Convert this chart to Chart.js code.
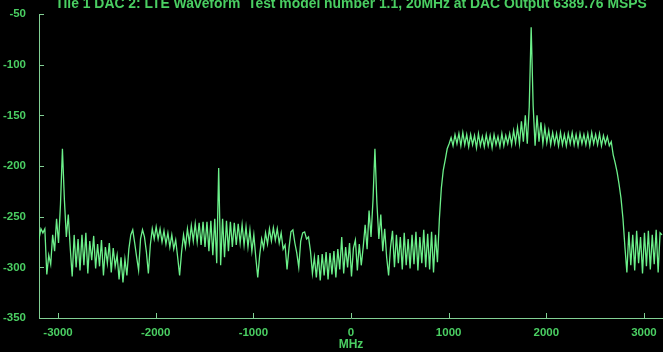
<!DOCTYPE html>
<html>
<head>
<meta charset="utf-8">
<script src="https://cdn.jsdelivr.net/npm/chart.js@4.4.1/dist/chart.umd.min.js"></script>
<style>
  html, body { margin: 0; padding: 0; background: #000; }
  #wrap { width: 663px; height: 352px; }
</style>
</head>
<body>
<div id="wrap"><canvas id="spectrum"></canvas></div>
<script>
// FFT bins: first bin and spacing in MHz
const binStart = -3195;
const binStep = 20;

// level per bin in dB (10 bins per line = 200 MHz)
const levelDb = [
  -272, -262, -266, -262, -307, -288, -297, -268, -284, -252,
  -276, -238, -183, -233, -270, -248, -281, -309, -268, -300,
  -272, -303, -268, -298, -266, -306, -274, -293, -269, -301,
  -277, -299, -273, -308, -280, -296, -276, -305, -281, -299,
  -288, -312, -290, -315, -292, -308, -282, -268, -263, -276,
  -290, -303, -272, -263, -270, -285, -306, -278, -262, -272,
  -260, -272, -262, -275, -264, -277, -266, -280, -268, -282,
  -273, -290, -308, -285, -268, -280, -262, -276, -259, -274,
  -257, -275, -256, -278, -255, -280, -255, -284, -254, -288,
  -252, -296, -202, -298, -252, -290, -254, -284, -255, -280,
  -256, -278, -257, -276, -258, -278, -260, -280, -263, -284,
  -268, -290, -310, -288, -272, -281, -266, -277, -262, -274,
  -261, -273, -262, -276, -266, -282, -278, -302, -281, -265,
  -263, -276, -286, -300, -274, -266, -265, -272, -270, -284,
  -306, -290, -310, -288, -313, -287, -308, -285, -312, -286,
  -307, -284, -310, -282, -302, -270, -306, -280, -300, -276,
  -309, -281, -273, -303, -277, -298, -280, -258, -282, -244,
  -270, -234, -183, -236, -272, -248, -284, -262, -290, -308,
  -280, -264, -300, -268, -296, -270, -302, -266, -298, -272,
  -301, -268, -297, -265, -303, -270, -296, -263, -300, -267,
  -302, -265, -305, -268, -295, -252, -222, -204, -194, -183,
  -178, -172, -180, -169, -178, -168, -180, -167, -179, -169,
  -181, -169, -179, -170, -182, -168, -180, -171, -181, -169,
  -180, -170, -182, -169, -179, -171, -181, -168, -180, -170,
  -178, -168, -179, -165, -177, -162, -178, -156, -176, -150,
  -178, -142, -63, -140, -180, -150, -176, -157, -178, -162,
  -177, -165, -179, -167, -178, -168, -180, -167, -179, -169,
  -180, -168, -178, -167, -179, -169, -180, -168, -178, -169,
  -179, -168, -180, -167, -178, -169, -179, -168, -180, -170,
  -178, -171, -180, -176, -189, -197, -206, -218, -232, -252,
  -280, -305, -265, -298, -268, -303, -264, -296, -270, -306,
  -266, -299, -264, -302, -268, -297, -263, -305, -266, -268
];

const xTicks = [-3000, -2000, -1000, 0, 1000, 2000, 3000];
const yTicks = [-350, -300, -250, -200, -150, -100, -50];

const titleText = "Tile 1 DAC 2: LTE Waveform  Test model number 1.1, 20MHz at DAC Output 6389.76 MSPS";
const xTitle = "MHz";

const points = levelDb.map((v, i) => ({ x: binStart + binStep * i, y: v }));

const lineGreen = "rgb(108,240,138)";
const textGreen = "rgb(74,206,98)";
const axisGreen = "rgb(130,208,148)";
const font = "'Liberation Sans', Arial, sans-serif";

const scopeLook = {
  id: "scopeLook",
  beforeDraw(chart) {
    const ctx = chart.ctx;
    ctx.save();
    ctx.fillStyle = "#000";
    ctx.fillRect(0, 0, chart.width, chart.height);
    ctx.restore();
  },
  afterDraw(chart) {
    const ctx = chart.ctx;
    const xs = chart.scales.x, ys = chart.scales.y;
    const a = chart.chartArea;
    ctx.save();
    ctx.strokeStyle = axisGreen;
    ctx.lineWidth = 1;
    ctx.beginPath();
    xs.ticks.forEach(t => {
      const px = Math.round(xs.getPixelForValue(t.value)) + 0.5;
      ctx.moveTo(px, a.bottom);
      ctx.lineTo(px, a.bottom - 5);
    });
    ys.ticks.forEach(t => {
      const py = Math.round(ys.getPixelForValue(t.value)) + 0.5;
      ctx.moveTo(a.left, py);
      ctx.lineTo(a.left + 5, py);
    });
    ctx.stroke();
    ctx.fillStyle = textGreen;
    ctx.font = "bold 13.9px " + font;
    ctx.textAlign = "center";
    ctx.textBaseline = "alphabetic";
    ctx.fillText(titleText, (a.left + a.right) / 2, 8);
    ctx.restore();
  }
};

new Chart(document.getElementById("spectrum"), {
  type: "line",
  data: {
    datasets: [{
      data: points,
      borderColor: lineGreen,
      borderWidth: 1.3,
      pointRadius: 0,
      tension: 0,
      fill: false
    }]
  },
  options: {
    responsive: true,
    maintainAspectRatio: false,
    animation: false,
    parsing: false,
    layout: { padding: { top: 14, right: 0, left: 0, bottom: 0 } },
    plugins: { legend: { display: false }, tooltip: { enabled: false } },
    scales: {
      x: {
        type: "linear",
        min: -3194.88,
        max: 3194.88,
        afterBuildTicks: s => { s.ticks = xTicks.map(v => ({ value: v })); },
        afterFit: s => { s.height = 34; },
        grid: { display: false },
        border: { display: true, color: axisGreen, width: 1 },
        ticks: { color: textGreen, font: { family: font, size: 11.5, weight: "bold" }, padding: 0, maxRotation: 0, autoSkip: false, callback: v => String(v) },
        title: { display: true, text: xTitle, color: textGreen, font: { family: font, size: 12, weight: "bold" }, padding: { top: 0, bottom: 0 } }
      },
      y: {
        min: -350,
        max: -50,
        afterBuildTicks: s => { s.ticks = yTicks.map(v => ({ value: v })); },
        afterFit: s => { s.width = 39; },
        grid: { display: false },
        border: { display: true, color: axisGreen, width: 1 },
        ticks: { color: textGreen, font: { family: font, size: 11.5, weight: "bold" }, padding: 5, callback: v => String(v) }
      }
    }
  },
  plugins: [scopeLook]
});
</script>
</body>
</html>
